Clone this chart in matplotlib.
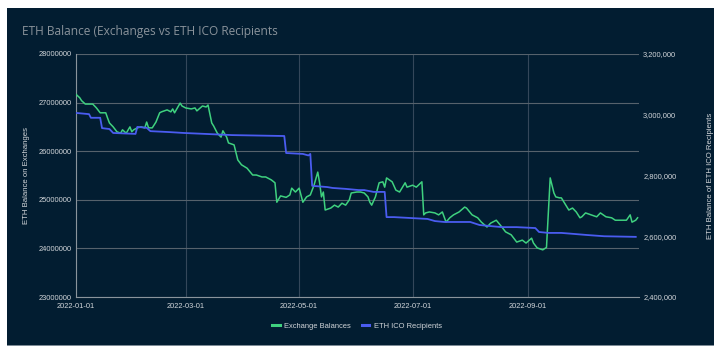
import matplotlib
matplotlib.use("Agg")
import matplotlib.pyplot as plt
import matplotlib.dates as mdates
import matplotlib.ticker as mticker
from matplotlib.patches import Rectangle
import pandas as pd

# ---------------- data ----------------
exch_dates = [
    "2022-01-01", "2022-01-03", "2022-01-04", "2022-01-06", "2022-01-10", "2022-01-12",
    "2022-01-14", "2022-01-17", "2022-01-18", "2022-01-19", "2022-01-21", "2022-01-23",
    "2022-01-25", "2022-01-26", "2022-01-28", "2022-01-30", "2022-01-31", "2022-02-01",
    "2022-02-03", "2022-02-05", "2022-02-07", "2022-02-08", "2022-02-09", "2022-02-11",
    "2022-02-13", "2022-02-15", "2022-02-16", "2022-02-19", "2022-02-21", "2022-02-22",
    "2022-02-23", "2022-02-26", "2022-02-27", "2022-03-01", "2022-03-04", "2022-03-06",
    "2022-03-07", "2022-03-10", "2022-03-12", "2022-03-13", "2022-03-15", "2022-03-16",
    "2022-03-18", "2022-03-20", "2022-03-21", "2022-03-23", "2022-03-24", "2022-03-27",
    "2022-03-29", "2022-03-31", "2022-04-03", "2022-04-06", "2022-04-08", "2022-04-11",
    "2022-04-13", "2022-04-16", "2022-04-18", "2022-04-19", "2022-04-21", "2022-04-24",
    "2022-04-26", "2022-04-27", "2022-04-29", "2022-05-01", "2022-05-03", "2022-05-05",
    "2022-05-07", "2022-05-09", "2022-05-11", "2022-05-12", "2022-05-13", "2022-05-14",
    "2022-05-15", "2022-05-18", "2022-05-20", "2022-05-22", "2022-05-24", "2022-05-26",
    "2022-05-28", "2022-05-29", "2022-06-01", "2022-06-03", "2022-06-05", "2022-06-07",
    "2022-06-08", "2022-06-09", "2022-06-11", "2022-06-13", "2022-06-15", "2022-06-16",
    "2022-06-17", "2022-06-20", "2022-06-22", "2022-06-24", "2022-06-27", "2022-06-28",
    "2022-07-01", "2022-07-03", "2022-07-06", "2022-07-07", "2022-07-08", "2022-07-10",
    "2022-07-13", "2022-07-15", "2022-07-17", "2022-07-19", "2022-07-21", "2022-07-23",
    "2022-07-26", "2022-07-29", "2022-07-30", "2022-08-02", "2022-08-05", "2022-08-07",
    "2022-08-10", "2022-08-12", "2022-08-15", "2022-08-18", "2022-08-20", "2022-08-23",
    "2022-08-26", "2022-08-29", "2022-08-31", "2022-09-03", "2022-09-04", "2022-09-06",
    "2022-09-09", "2022-09-11", "2022-09-12", "2022-09-13", "2022-09-15", "2022-09-16",
    "2022-09-18", "2022-09-19", "2022-09-22", "2022-09-23", "2022-09-25", "2022-09-27",
    "2022-09-29", "2022-09-30", "2022-10-02", "2022-10-05", "2022-10-08", "2022-10-10",
    "2022-10-13", "2022-10-16", "2022-10-18", "2022-10-21", "2022-10-24", "2022-10-26",
    "2022-10-27", "2022-10-29", "2022-10-30",
]
exch_values = [
    27170000, 27100000, 27040000, 26970000, 26970000, 26890000,
    26790000, 26790000, 26680000, 26580000, 26500000, 26400000,
    26370000, 26440000, 26370000, 26500000, 26400000, 26440000,
    26480000, 26500000, 26480000, 26600000, 26480000, 26480000,
    26600000, 26790000, 26810000, 26850000, 26810000, 26870000,
    26790000, 26990000, 26930000, 26890000, 26870000, 26890000,
    26830000, 26930000, 26910000, 26950000, 26580000, 26520000,
    26370000, 26290000, 26420000, 26290000, 26170000, 26130000,
    25820000, 25720000, 25650000, 25510000, 25510000, 25470000,
    25470000, 25410000, 25350000, 24950000, 25080000, 25050000,
    25100000, 25240000, 25160000, 25240000, 24950000, 25060000,
    25100000, 25300000, 25570000, 25350000, 25060000, 25160000,
    24790000, 24830000, 24890000, 24850000, 24930000, 24890000,
    25000000, 25140000, 25160000, 25160000, 25140000, 25060000,
    24950000, 24890000, 25060000, 25350000, 25370000, 25260000,
    25450000, 25370000, 25200000, 25160000, 25350000, 25260000,
    25300000, 25260000, 25370000, 24690000, 24730000, 24750000,
    24730000, 24690000, 24750000, 24540000, 24630000, 24690000,
    24750000, 24850000, 24830000, 24690000, 24630000, 24540000,
    24440000, 24520000, 24580000, 24440000, 24340000, 24280000,
    24130000, 24170000, 24110000, 24210000, 24110000, 24010000,
    23970000, 24020000, 24750000, 25450000, 25140000, 25060000,
    25040000, 25040000, 24850000, 24790000, 24830000, 24750000,
    24630000, 24650000, 24730000, 24690000, 24650000, 24730000,
    24650000, 24630000, 24580000, 24580000, 24580000, 24690000,
    24540000, 24580000, 24630000,
]

ico_dates = [
    "2022-01-01", "2022-01-08", "2022-01-09", "2022-01-14", "2022-01-15", "2022-01-19",
    "2022-01-21", "2022-02-02", "2022-02-03", "2022-02-08", "2022-02-10", "2022-02-20",
    "2022-02-28", "2022-03-26", "2022-04-23", "2022-04-24", "2022-05-03", "2022-05-06",
    "2022-05-07", "2022-05-08", "2022-05-16", "2022-05-19", "2022-05-26", "2022-06-02",
    "2022-06-05", "2022-06-10", "2022-06-16", "2022-06-17", "2022-06-21", "2022-06-30",
    "2022-07-09", "2022-07-13", "2022-07-18", "2022-08-01", "2022-08-06", "2022-08-11",
    "2022-08-18", "2022-08-26", "2022-09-05", "2022-09-07", "2022-09-12", "2022-09-19",
    "2022-10-03", "2022-10-12", "2022-10-29",
]
ico_values = [
    3006000, 3002000, 2990000, 2990000, 2956000, 2953000,
    2940000, 2937000, 2960000, 2957000, 2946000, 2943000,
    2940000, 2933000, 2930000, 2874000, 2871000, 2866000,
    2871000, 2766000, 2762000, 2759000, 2756000, 2752000,
    2752000, 2746000, 2746000, 2663000, 2663000, 2660000,
    2657000, 2650000, 2647000, 2647000, 2637000, 2634000,
    2630000, 2630000, 2627000, 2614000, 2611000, 2611000,
    2604000, 2600000, 2598000,
]

left_ticks = [23000000, 24000000, 25000000, 26000000, 27000000, 28000000]
right_ticks = [2400000, 2600000, 2800000, 3000000, 3200000]
x_ticks = ["2022-01-01", "2022-03-01", "2022-05-01", "2022-07-01", "2022-09-01"]

title = "ETH Balance (Exchanges vs ETH ICO Recipients"
left_label = "ETH Balance on Exchanges"
right_label = "ETH Balance of ETH ICO Recipients"
series_names = ["Exchange Balances", "ETH ICO Recipients"]

# ---------------- style ----------------
BG = "#021d31"
GREEN = "#3fd17f"
BLUE = "#4a5cf0"
HGRID = "#56626c"
VGRID = "#34475a"
TXT = "#d2d6da"
FONT = ["Liberation Sans", "DejaVu Sans"]

plt.rcParams["font.family"] = FONT

fig = plt.figure(figsize=(7.14, 3.52), dpi=100, facecolor="white")
fig.patches.append(Rectangle((7 / 714, 7 / 352), 707 / 714, 337 / 352,
                             transform=fig.transFigure, facecolor=BG,
                             edgecolor="none", zorder=-10))
fig.patches.append(Rectangle((7 / 714, 6 / 352), 707 / 714, 1.2 / 352,
                             transform=fig.transFigure, facecolor="#7d8b96",
                             edgecolor="none", zorder=-9))

ax = fig.add_axes([76 / 714, 55 / 352, 563 / 714, 243 / 352])
ax.set_facecolor("none")
ax2 = ax.twinx()

xd = pd.to_datetime(exch_dates)
xi = pd.to_datetime(ico_dates)
l1, = ax.plot(xd, exch_values, color=GREEN, lw=1.1, label=series_names[0], zorder=3)
l2, = ax2.plot(xi, ico_values, color=BLUE, lw=1.3, label=series_names[1], zorder=3)

ax.set_xlim(pd.Timestamp("2022-01-01"), pd.Timestamp("2022-10-30 18:00"))
ax.set_ylim(23000000, 28000000)
ax2.set_ylim(2400000, 3200000)

ax.set_yticks(left_ticks)
ax.yaxis.set_major_formatter(mticker.FuncFormatter(lambda v, p: f"{int(v)}"))
ax2.set_yticks(right_ticks)
ax2.yaxis.set_major_formatter(mticker.FuncFormatter(lambda v, p: f"{int(v):,}"))
ax.set_xticks(pd.to_datetime(x_ticks))
ax.xaxis.set_major_formatter(mdates.DateFormatter("%Y-%m-%d"))

ax.grid(axis="y", color=HGRID, lw=0.8)
ax.grid(axis="x", color=VGRID, lw=0.8)
ax.set_axisbelow(True)

for a in (ax, ax2):
    for s in a.spines.values():
        s.set_visible(False)
    a.tick_params(length=0, labelsize=5.4, labelcolor=TXT, pad=3)
ax.spines["bottom"].set_visible(True)
ax.spines["bottom"].set_color("#8a949c")
ax.spines["bottom"].set_linewidth(0.8)
ax.spines["left"].set_visible(True)
ax.spines["left"].set_color("#8a949c")
ax.spines["left"].set_linewidth(0.8)
ax.tick_params(axis="x", pad=4)

ax.set_ylabel(left_label, color=TXT, fontsize=5.6, labelpad=6)
ax2.set_ylabel(right_label, color=TXT, fontsize=5.6, labelpad=22)

fig.text(22 / 714, 1 - 32 / 352, title, color="#8a939b", fontsize=8.6,
         family=["Open Sans", "DejaVu Sans"], va="center", ha="left")

leg = fig.legend(handles=[l1, l2], loc="center", bbox_to_anchor=(0.5, 1 - 326 / 352),
                 ncol=2, frameon=False, fontsize=5.4, labelcolor=TXT,
                 handlelength=1.0, handletextpad=0.6, columnspacing=1.4)
for h in leg.legend_handles:
    h.set_linewidth(2.2)

fig.savefig("out.png", dpi=100, facecolor="white")
